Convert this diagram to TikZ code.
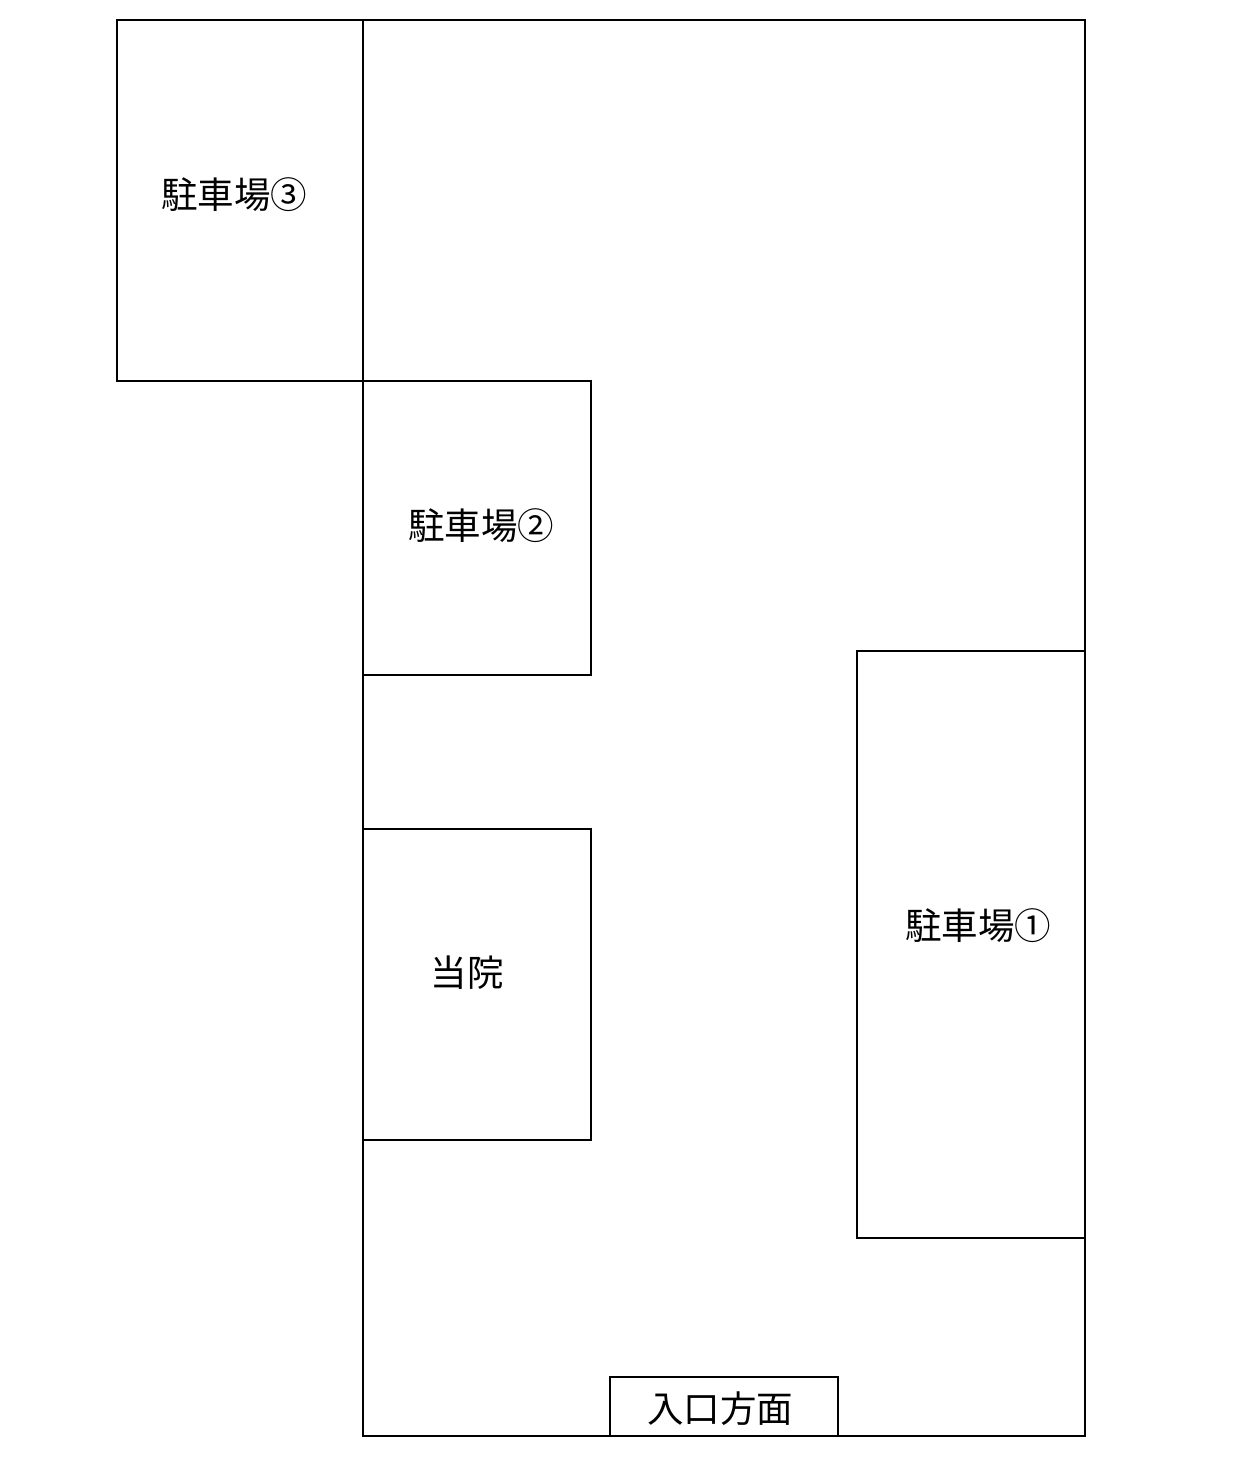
\documentclass[tikz,border=0pt]{standalone}
\usepackage{fontspec}
\newfontfamily\jp{Noto Sans CJK JP}[Scale=1.0]
\begin{document}
\begin{tikzpicture}[x=1pt,y=-1pt,
  area/.style={draw=black,line width=1.8pt},
  lbl/.style={font=\jp\fontsize{36.5}{42}\selectfont,inner sep=0pt}]
\useasboundingbox[fill=white] (0,0) rectangle (1241,1458);
% main area
\draw[area] (363,20) rectangle (1085,1436);
% parking 3
\draw[area] (117,20) rectangle (363,381);
% parking 2
\draw[area] (363,381) rectangle (591,675);
% clinic
\draw[area] (363,829) rectangle (591,1140);
% parking 1
\draw[area] (857,651) rectangle (1085,1238);
% entrance
\draw[area,fill=white] (610,1377) rectangle (838,1436);
\node[lbl] (p3) at (234,195) {駐車場③};
\node[lbl] (p2) at (481,526) {駐車場②};
\node[lbl] (cl) at (467,973) {当院};
\node[lbl] (p1) at (978,926) {駐車場①};
\node[lbl] (en) at (720,1409) {入口方面};
\end{tikzpicture}
\end{document}
